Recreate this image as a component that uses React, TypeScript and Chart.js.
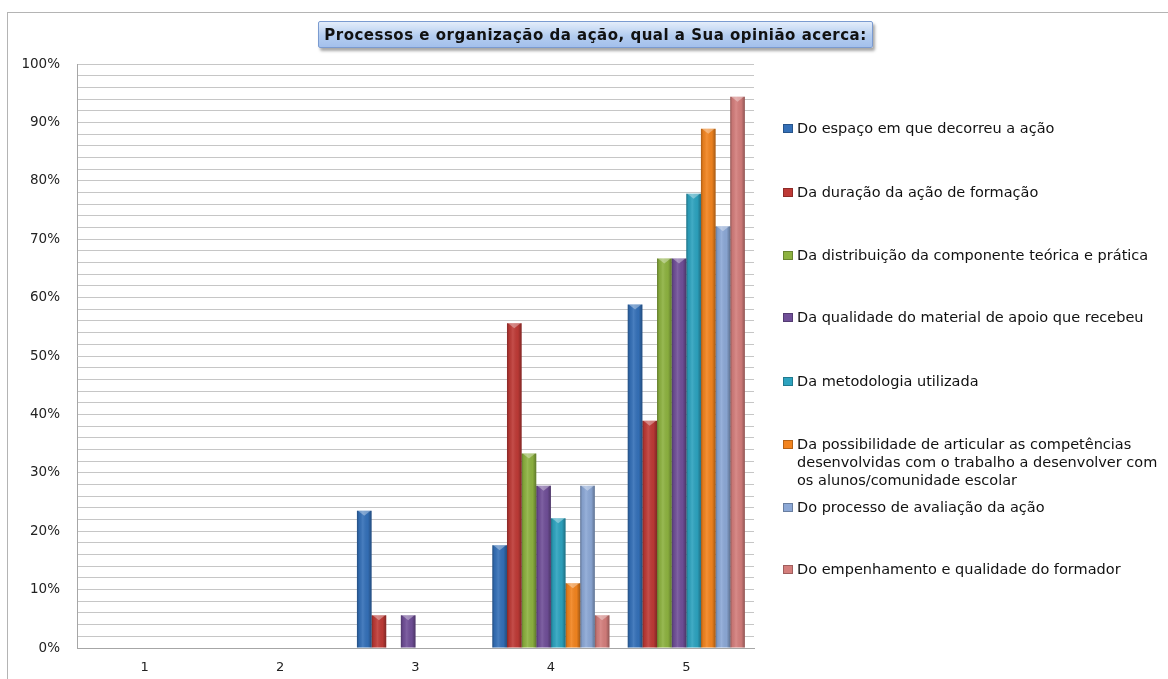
import React, { useEffect, useRef } from "react";
import { Chart, registerables } from "chart.js";

Chart.register(...registerables);

const categories = ["1", "2", "3", "4", "5"];

const seriesNames = [
  "Do espaço em que decorreu a ação",
  "Da duração da ação de formação",
  "Da distribuição da componente teórica e prática",
  "Da qualidade do material de apoio que recebeu",
  "Da metodologia utilizada",
  "Da possibilidade de articular as competências desenvolvidas com o trabalho a desenvolver com os alunos/comunidade escolar",
  "Do processo de avaliação da ação",
  "Do empenhamento e qualidade do formador",
];

const legendLines = [
  ["Do espaço em que decorreu a ação"],
  ["Da duração da ação de formação"],
  ["Da distribuição da componente teórica e prática"],
  ["Da qualidade do material de apoio que recebeu"],
  ["Da metodologia utilizada"],
  [
    "Da possibilidade de articular as competências",
    "desenvolvidas com o trabalho a desenvolver com",
    "os alunos/comunidade escolar",
  ],
  ["Do processo de avaliação da ação"],
  ["Do empenhamento e qualidade do formador"],
];

const espaco = [0, 0, 23.5, 17.6, 58.8];
const duracao = [0, 0, 5.6, 55.6, 38.9];
const distribuicao = [0, 0, 0, 33.3, 66.7];
const material = [0, 0, 5.6, 27.8, 66.7];
const metodologia = [0, 0, 0, 22.2, 77.8];
const possibilidade = [0, 0, 0, 11.1, 88.9];
const avaliacao = [0, 0, 0, 27.8, 72.2];
const formador = [0, 0, 0, 5.6, 94.4];

const seriesValues = [espaco, duracao, distribuicao, material, metodologia, possibilidade, avaliacao, formador];

const seriesColors = ["#3470b8", "#be3a36", "#8db240", "#704f98", "#2da3bf", "#f2841f", "#8ca8d6", "#d47e7c"];

const yMin = 0;
const yMax = 100;
const yStep = 2;
const yLabelStep = 10;

const legendTop = [128, 192, 255, 317, 381, 462, 507, 569];

const shadePlugin = {
  id: "shade3d",
  afterDatasetsDraw(chart: any) {
    const ctx = chart.ctx;
    chart.data.datasets.forEach((_ds: any, i: number) => {
      const meta = chart.getDatasetMeta(i);
      meta.data.forEach((bar: any) => {
        const { x, y, base, width } = bar.getProps(["x", "y", "base", "width"], true);
        const h = base - y;
        if (h < 0.5) return;
        const l = x - width / 2;
        const g = ctx.createLinearGradient(l, 0, l + width, 0);
        g.addColorStop(0, "rgba(0,0,0,0.30)");
        g.addColorStop(0.15, "rgba(0,0,0,0.06)");
        g.addColorStop(0.4, "rgba(255,255,255,0.10)");
        g.addColorStop(0.75, "rgba(0,0,0,0.03)");
        g.addColorStop(1, "rgba(0,0,0,0.32)");
        ctx.save();
        ctx.fillStyle = g;
        ctx.fillRect(l, y, width, h);
        ctx.fillStyle = "rgba(255,255,255,0.35)";
        ctx.beginPath();
        ctx.moveTo(l + 1, y);
        ctx.lineTo(l + width - 1, y);
        ctx.lineTo(x, y + Math.min(5, h));
        ctx.closePath();
        ctx.fill();
        ctx.restore();
      });
    });
  },
};

export default function App() {
  const canvasRef = useRef<HTMLCanvasElement | null>(null);

  useEffect(() => {
    if (!canvasRef.current) return;
    const chart = new Chart(canvasRef.current, {
      type: "bar",
      data: {
        labels: categories,
        datasets: seriesNames.map((name, i) => ({
          label: name,
          data: seriesValues[i],
          backgroundColor: seriesColors[i],
          borderWidth: 0,
          categoryPercentage: 0.865,
          barPercentage: 1.0,
        })),
      },
      options: {
        animation: false,
        responsive: false,
        devicePixelRatio: 1,
        layout: { padding: { left: 0, top: 64, right: 414, bottom: 0 } },
        plugins: {
          legend: { display: false },
          tooltip: { enabled: false },
          title: { display: false },
        },
        scales: {
          x: {
            grid: { display: false, drawTicks: false },
            border: { display: true, color: "#a6a6a6", width: 1 },
            ticks: {
              color: "#222",
              padding: 12,
              font: { family: "DejaVu Sans", size: 13 },
            },
            afterFit: (scale: any) => {
              scale.height = 31;
            },
          },
          y: {
            min: yMin,
            max: yMax,
            grid: { color: "#c6c6c6", lineWidth: 1, drawTicks: false },
            border: { display: true, color: "#a6a6a6", width: 1 },
            ticks: {
              stepSize: yStep,
              autoSkip: false,
              color: "#222",
              padding: 17,
              font: { family: "DejaVu Sans", size: 13.5 },
              callback: (v: any) => (Number(v) % yLabelStep === 0 ? v + "%" : ""),
            },
            afterFit: (scale: any) => {
              scale.width = 77;
            },
          },
        },
      },
      plugins: [shadePlugin],
    });
    return () => chart.destroy();
  }, []);

  return (
    <div
      style={{
        position: "absolute",
        left: 0,
        top: 0,
        width: 1168,
        height: 679,
        background: "#fff",
        overflow: "hidden",
      }}
    >
      <div
        style={{
          position: "absolute",
          left: 7,
          top: 12,
          width: 1200,
          height: 700,
          border: "1px solid #b4b4b4",
          boxSizing: "border-box",
        }}
      />
      <canvas
        ref={canvasRef}
        width={1168}
        height={679}
        style={{ position: "absolute", left: 0, top: 0, width: 1168, height: 679 }}
      />
      <div
        style={{
          position: "absolute",
          left: 318,
          top: 21,
          width: 555,
          height: 27,
          boxSizing: "border-box",
          border: "1px solid #7b9bd0",
          borderRadius: 2,
          background: "linear-gradient(#e4edfa, #b4cdf0 55%, #a3c0ec)",
          boxShadow: "2px 3px 3px rgba(0,0,0,0.35)",
          display: "flex",
          alignItems: "center",
          justifyContent: "center",
          fontFamily: "'DejaVu Sans', sans-serif",
          fontWeight: 700,
          fontSize: 15,
          letterSpacing: 0.5,
          color: "#111",
          whiteSpace: "nowrap",
        }}
      >
        Processos e organização da ação, qual a Sua opinião acerca:
      </div>
      {legendLines.map((lines, i) => {
        const lh = 18;
        const top = legendTop[i] - (lines.length * lh) / 2;
        return (
          <div
            key={i}
            style={{
              position: "absolute",
              left: 783,
              top,
              fontFamily: "'DejaVu Sans', sans-serif",
              fontSize: 14.5,
              lineHeight: lh + "px",
              color: "#111",
              whiteSpace: "nowrap",
            }}
          >
            <span
              style={{
                position: "absolute",
                left: 0,
                top: lh / 2 - 4,
                width: 10,
                height: 9,
                background: seriesColors[i],
                boxShadow: "inset 0 0 0 1px rgba(0,0,0,0.25)",
              }}
            />
            <div style={{ marginLeft: 14 }}>
              {lines.map((t, j) => (
                <div key={j}>{t}</div>
              ))}
            </div>
          </div>
        );
      })}
    </div>
  );
}
